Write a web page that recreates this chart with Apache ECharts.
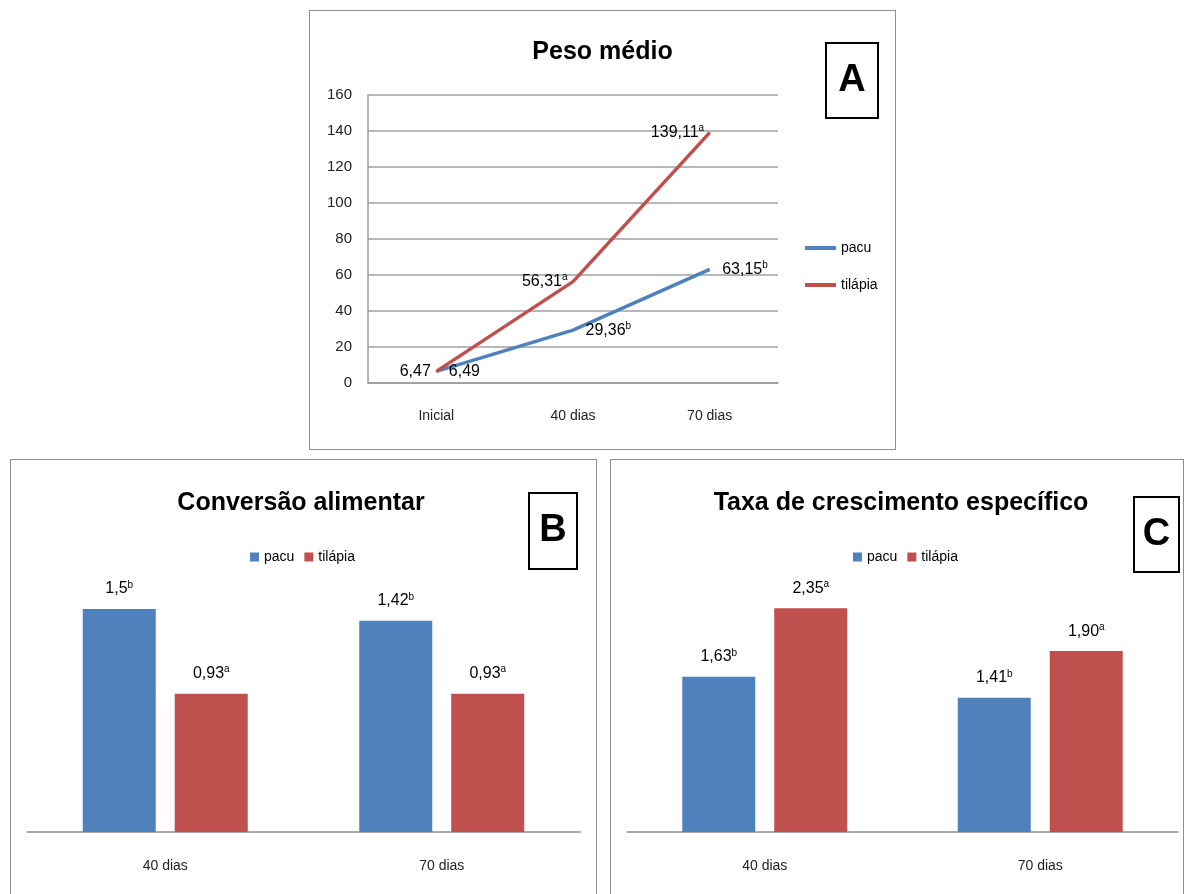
<!DOCTYPE html>
<html>

<head>
    <meta charset="utf-8">
    <script src="https://cdn.jsdelivr.net/npm/echarts@6/dist/echarts.min.js"></script>
    <style>
        body { margin: 0; background: #fff; overflow: hidden; }
        .box { position: absolute; border: 1px solid #8e8e8e; box-sizing: border-box; background: #fff; }
    </style>
</head>

<body>
    <div id="chartA" class="box" style="left:309px; top:10px; width:587px; height:440px;"></div>
    <div id="chartB" class="box" style="left:10px; top:459px; width:587px; height:445px;"></div>
    <div id="chartC" class="box" style="left:610px; top:459px; width:574px; height:445px;"></div>
</body>

<script type='text/javascript'>
    var FONT = '"Liberation Sans", Arial, sans-serif';
    var BLUE = '#4f81bd', RED = '#c0504d';

    // Peso medio
    var pesoCats = ['Inicial', '40 dias', '70 dias'];
    var pesoPacu = [6.49, 29.36, 63.15];
    var pesoPacuSup = ['', 'b', 'b'];
    var pesoTilapia = [6.47, 56.31, 139.11];
    var pesoTilapiaSup = ['', 'a', 'a'];

    // Conversao alimentar
    var convCats = ['40 dias', '70 dias'];
    var convPacu = [1.5, 1.42];
    var convPacuText = ['1,5', '1,42'];
    var convPacuSup = ['b', 'b'];
    var convTilapia = [0.93, 0.93];
    var convTilapiaText = ['0,93', '0,93'];
    var convTilapiaSup = ['a', 'a'];

    // Taxa de crescimento especifico
    var tceCats = ['40 dias', '70 dias'];
    var tcePacu = [1.63, 1.41];
    var tcePacuText = ['1,63', '1,41'];
    var tcePacuSup = ['b', 'b'];
    var tceTilapia = [2.35, 1.90];
    var tceTilapiaText = ['2,35', '1,90'];
    var tceTilapiaSup = ['a', 'a'];

    var richSup = {
        v: { fontFamily: FONT, fontSize: 16, color: '#000', lineHeight: 18 },
        s: { fontFamily: FONT, fontSize: 10, color: '#000', verticalAlign: 'top', lineHeight: 18, padding: [0, 0, 6, 0] }
    };

    function supLabel(texts, sups) {
        return function (p) {
            var t = texts ? texts[p.dataIndex] : String(p.value).replace('.', ',');
            var s = sups[p.dataIndex];
            return '{v|' + t + '}' + (s ? '{s|' + s + '}' : '');
        };
    }

    function letterBox(letter, x, y, w, h) {
        return {
            type: 'group', left: x, top: y,
            children: [
                { type: 'rect', shape: { x: 0, y: 0, width: w, height: h }, style: { fill: '#fff', stroke: '#000', lineWidth: 2 } },
                { type: 'text', x: w / 2, y: h / 2, style: { text: letter, font: 'bold 38px ' + FONT, fill: '#000', textAlign: 'center', textVerticalAlign: 'middle' } }
            ]
        };
    }

    // ---- A: line chart
    var chartA = echarts.init(document.getElementById('chartA'));
    chartA.setOption({
        animation: false,
        title: { text: 'Peso médio', left: 'center', top: 24, textStyle: { fontFamily: FONT, fontSize: 25, fontWeight: 'bold', color: '#000' } },
        graphic: [letterBox('A', 515, 31, 52, 75)],
        legend: {
            orient: 'vertical', left: 490, top: 225, itemWidth: 31, itemHeight: 4, itemGap: 23,
            icon: 'rect',
            textStyle: { fontFamily: FONT, fontSize: 14, color: '#000' },
            data: ['pacu', 'tilápia']
        },
        grid: { left: 58, top: 84, width: 410, height: 288 },
        xAxis: {
            type: 'category', data: pesoCats,
            axisLine: { lineStyle: { color: '#9a9a9a', width: 1.5 } },
            axisTick: { show: false },
            axisLabel: { margin: 26, fontFamily: FONT, fontSize: 14, color: '#222' }
        },
        yAxis: {
            type: 'value', min: 0, max: 160, interval: 20,
            axisLine: { show: true, lineStyle: { color: '#9a9a9a', width: 1.5 } },
            axisTick: { show: false },
            splitLine: { lineStyle: { color: '#a0a0a0', width: 1.5 } },
            axisLabel: { margin: 16, fontFamily: FONT, fontSize: 15, color: '#222' }
        },
        series: [
            {
                name: 'pacu', type: 'line', data: pesoPacu, symbol: 'circle', symbolSize: 1,
                lineStyle: { color: BLUE, width: 3.5 }, itemStyle: { color: BLUE },
                label: { show: true, position: 'right', distance: 12, formatter: supLabel(null, pesoPacuSup), rich: richSup }
            },
            {
                name: 'tilápia', type: 'line', data: pesoTilapia, symbol: 'circle', symbolSize: 1,
                lineStyle: { color: RED, width: 3.5 }, itemStyle: { color: RED },
                label: { show: true, position: 'left', distance: 5, formatter: supLabel(null, pesoTilapiaSup), rich: richSup }
            }
        ]
    });

    function barOption(titleText, titleX, letter, lx, ly, lw, lh, legendX, cats, pacu, pacuText, pacuSup, tilapia, tilapiaText, tilapiaSup, yMax, gridW) {
        return {
            animation: false,
            title: { text: titleText, left: titleX, textAlign: 'center', top: 26, textStyle: { fontFamily: FONT, fontSize: 25, fontWeight: 'bold', color: '#000' } },
            graphic: [letterBox(letter, lx, ly, lw, lh)],
            legend: {
                left: legendX, top: 85, itemWidth: 9, itemHeight: 9, itemGap: 10, icon: 'rect',
                textStyle: { fontFamily: FONT, fontSize: 14, color: '#000' },
                data: ['pacu', 'tilápia']
            },
            grid: { left: 16, top: 134, width: gridW, height: 238 },
            xAxis: {
                type: 'category', data: cats,
                axisLine: { lineStyle: { color: '#8e8e8e', width: 1.5 } },
                axisTick: { show: false },
                axisLabel: { margin: 27, fontFamily: FONT, fontSize: 14, color: '#222' }
            },
            yAxis: { type: 'value', min: 0, max: yMax, show: false, splitLine: { show: false } },
            series: [
                {
                    name: 'pacu', type: 'bar', data: pacu, barWidth: 73, barGap: '26%', itemStyle: { color: BLUE },
                    label: { show: true, position: 'top', distance: 11, formatter: supLabel(pacuText, pacuSup), rich: richSup }
                },
                {
                    name: 'tilápia', type: 'bar', data: tilapia, barWidth: 73, itemStyle: { color: RED },
                    label: { show: true, position: 'top', distance: 11, formatter: supLabel(tilapiaText, tilapiaSup), rich: richSup }
                }
            ]
        };
    }

    var chartB = echarts.init(document.getElementById('chartB'));
    chartB.setOption(barOption('Conversão alimentar', 285, 'B', 517, 32, 48, 76, 234,
        convCats, convPacu, convPacuText, convPacuSup, convTilapia, convTilapiaText, convTilapiaSup, 1.6, 553));

    var chartC = echarts.init(document.getElementById('chartC'));
    chartC.setOption(barOption('Taxa de crescimento específico', 285, 'C', 522, 36, 45, 75, 237,
        tceCats, tcePacu, tcePacuText, tcePacuSup, tceTilapia, tceTilapiaText, tceTilapiaSup, 2.5, 551));
</script>

</html>
